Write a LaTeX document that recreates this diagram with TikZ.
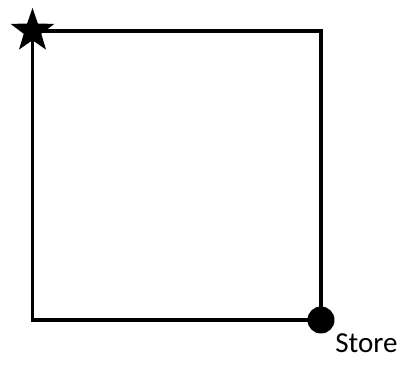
\documentclass[tikz,border=0pt]{standalone}
\usepackage{fontspec}
\setmainfont{Carlito}
\usetikzlibrary{
  positioning,
  shapes.geometric
}

\begin{document}
\begin{tikzpicture}[
  x=0.5pt, y=-0.5pt,
  startmark/.style={star, star points=5, star point ratio=2.5, fill=black,
                    inner sep=0pt, minimum size=23pt},
  shopmark/.style={circle, fill=black, inner sep=0pt, minimum size=13.5pt},
  walk/.style={line width=1.7pt}
]
  \useasboundingbox (0,0) rectangle (409,370);

  % corners of the route
  \node[startmark] (home) at (32.5,31) {};
  \node[shopmark] (store) at (321,320) {};

  \draw[walk] (home.center) -- (home.center -| store.center) -- (store.center)
    -- (store.center -| home.center) -- cycle;

  \node[anchor=base west, inner sep=0pt, font=\fontsize{14.5}{16}\selectfont]
    (storelabel) at (335,352) {Store};
\end{tikzpicture}
\end{document}
